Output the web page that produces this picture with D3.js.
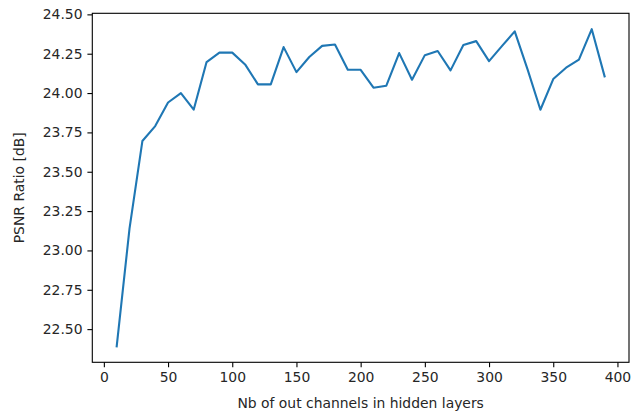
<!DOCTYPE html>
<html>
<head>
<meta charset="utf-8">
<script src="https://cdn.jsdelivr.net/npm/d3@7"></script>
<style>
  html, body { margin: 0; padding: 0; background: #fff; }
  svg { display: block; }
  text { font-family: "DejaVu Sans", sans-serif; fill: #262626; }
</style>
</head>
<body>
<svg id="chart" width="632" height="416"></svg>
<script>
// Number of output channels per hidden layer
const channels = [10, 20, 30, 40, 50, 60, 70, 80, 90, 100,
  110, 120, 130, 140, 150, 160, 170, 180, 190, 200,
  210, 220, 230, 240, 250, 260, 270, 280, 290, 300,
  310, 320, 330, 340, 350, 360, 370, 380, 390];

// PSNR measured for each configuration (dB)
const psnr = [22.39, 23.14, 23.695, 23.79, 23.94, 24.00, 23.895, 24.197, 24.257, 24.257,
  24.182, 24.055, 24.055, 24.292, 24.133, 24.229, 24.30, 24.309, 24.148, 24.148,
  24.034, 24.047, 24.254, 24.085, 24.241, 24.267, 24.144, 24.305, 24.33, 24.203,
  24.298, 24.392, 24.15, 23.894, 24.089, 24.161, 24.212, 24.406, 24.106];

const xTicks = [0, 50, 100, 150, 200, 250, 300, 350, 400];
const yTicks = [22.50, 22.75, 23.00, 23.25, 23.50, 23.75, 24.00, 24.25, 24.50];

const xLabel = "Nb of out channels in hidden layers";
const yLabel = "PSNR Ratio [dB]";

const svg = d3.select("#chart");
const plot = { left: 92.3, right: 629, top: 13.3, bottom: 362.3 };
const fontSize = 13.9;
const tickLen = 4.9;

// 5% padding around the data range on both axes
function padded(values) {
  const [lo, hi] = d3.extent(values);
  const m = (hi - lo) * 0.05;
  return [lo - m, hi + m];
}

const x = d3.scaleLinear().domain(padded(channels)).range([plot.left, plot.right]);
const y = d3.scaleLinear().domain(padded(psnr)).range([plot.bottom, plot.top]);

// Series line
const line = d3.line().x((d, i) => x(channels[i])).y(d => y(d));
svg.append("path")
  .datum(psnr)
  .attr("d", line)
  .attr("fill", "none")
  .attr("stroke", "#1f77b4")
  .attr("stroke-width", 2.1)
  .attr("stroke-linejoin", "round")
  .attr("stroke-linecap", "square");

// Axes
const xAxis = d3.axisBottom(x).tickValues(xTicks).tickFormat(d3.format("d"))
  .tickSize(tickLen).tickPadding(4.9);
const yAxis = d3.axisLeft(y).tickValues(yTicks).tickFormat(d3.format(".2f"))
  .tickSize(tickLen).tickPadding(4.9);

const gx = svg.append("g").attr("transform", `translate(0,${plot.bottom})`).call(xAxis);
const gy = svg.append("g").attr("transform", `translate(${plot.left},0)`).call(yAxis);

[gx, gy].forEach(g => {
  g.select(".domain").remove();
  g.selectAll(".tick line").attr("stroke", "#000").attr("stroke-width", 1.1);
  g.selectAll(".tick text")
    .attr("font-family", "DejaVu Sans, sans-serif")
    .attr("font-size", fontSize)
    .attr("fill", "#262626");
});

// Frame around the plotting area
svg.append("rect")
  .attr("x", plot.left)
  .attr("y", plot.top)
  .attr("width", plot.right - plot.left)
  .attr("height", plot.bottom - plot.top)
  .attr("fill", "none")
  .attr("stroke", "#000")
  .attr("stroke-width", 1.1);

// Axis titles
svg.append("text")
  .attr("x", (plot.left + plot.right) / 2)
  .attr("y", 408)
  .attr("text-anchor", "middle")
  .attr("font-size", fontSize)
  .text(xLabel);

svg.append("text")
  .attr("transform", `translate(24,${(plot.top + plot.bottom) / 2}) rotate(-90)`)
  .attr("text-anchor", "middle")
  .attr("font-size", fontSize)
  .text(yLabel);
</script>
</body>
</html>
